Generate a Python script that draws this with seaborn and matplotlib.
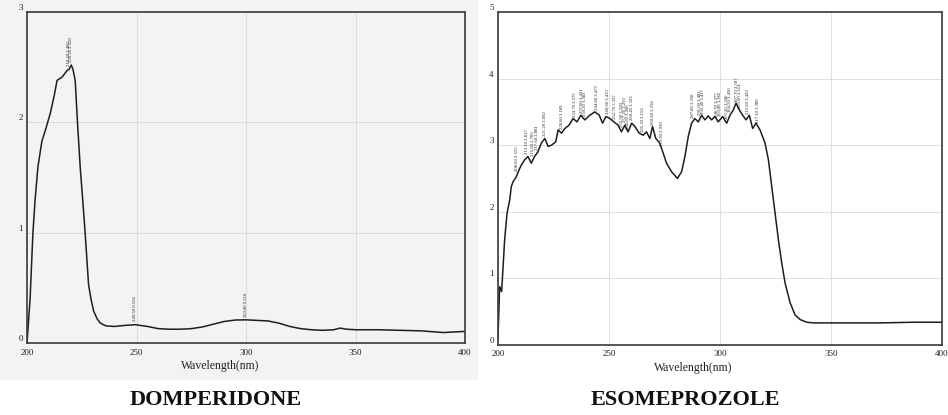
import matplotlib
matplotlib.use("Agg")
import matplotlib.pyplot as plt
import numpy as np
import pandas as pd
import seaborn as sns
from matplotlib.patches import Rectangle

# Domperidone spectrum (wavelength nm, absorbance)
dom_nm = [200, 201.4, 202.7, 203.7, 205, 206.8, 208.4, 210.6, 212.5, 213.7, 216, 218.3, 219.2,
          220.2, 221, 222, 223.1, 224.3, 225.5, 226.6, 228.1, 229.2, 230.4, 232, 233.5, 236, 240,
          245, 249.5, 255, 260, 265, 270, 275, 280, 285, 290, 295, 300, 305, 310, 315, 320, 325,
          330, 335, 340, 343, 346, 350, 360, 370, 380, 390, 400]
dom_abs = [0.0, 0.4, 1.0, 1.3, 1.6, 1.83, 1.93, 2.08, 2.25, 2.38, 2.41, 2.47, 2.48,
           2.52, 2.48, 2.38, 1.98, 1.59, 1.28, 0.98, 0.53, 0.4, 0.29, 0.22, 0.18, 0.155, 0.15,
           0.16, 0.166, 0.15, 0.13, 0.125, 0.125, 0.13, 0.145, 0.17, 0.195, 0.208, 0.21, 0.205,
           0.2, 0.18, 0.15, 0.13, 0.12, 0.115, 0.12, 0.135, 0.125, 0.12, 0.12, 0.115, 0.11,
           0.095, 0.105]
dom_peaks = [219.2, 220.2, 249.5, 300.0]

# Esomeprazole spectrum
eso_nm = [200, 200.75, 201.65, 203.0, 204.1, 205.3, 206.0, 206.8, 208.3, 209.5, 210.5, 212.0,
          213.5, 215.0, 216.5, 218.0, 219.5, 221.1, 222.6, 224.1, 226.0, 227.1, 228.6, 230.1,
          232.0, 233.8, 235.6, 237.3, 239.1, 241.4, 243.6, 245.6, 247.1, 248.6, 250.4, 252.2,
          254.1, 255.6, 257.1, 258.6, 260.2, 261.7, 263.6, 265.4, 266.9, 268.4, 269.6, 271.1,
          272.9, 274.4, 275.9, 278.2, 280.8, 282.7, 284.2, 285.7, 287.2, 288.7, 290.2, 291.7,
          293.2, 294.7, 296.2, 297.7, 299.2, 301.2, 303.0, 304.5, 306.0, 307.2, 308.7, 310.2,
          311.7, 313.2, 314.7, 316.2, 318.0, 320.3, 321.8, 323.3, 324.8, 326.3, 327.8, 329.3,
          331.6, 333.8, 336.1, 339.1, 342.1, 357.1, 372.2, 387.2, 400]
eso_abs = [0.1, 0.875, 0.80, 1.58, 1.98, 2.18, 2.38, 2.45, 2.53, 2.63, 2.70, 2.78,
           2.83, 2.73, 2.83, 2.90, 3.03, 3.10, 2.98, 3.00, 3.05, 3.23, 3.18, 3.25,
           3.30, 3.40, 3.35, 3.45, 3.38, 3.45, 3.50, 3.45, 3.33, 3.43, 3.40, 3.35,
           3.30, 3.20, 3.30, 3.20, 3.33, 3.28, 3.18, 3.15, 3.20, 3.10, 3.28, 3.10,
           3.03, 2.88, 2.73, 2.60, 2.50, 2.60, 2.83, 3.13, 3.33, 3.40, 3.35, 3.45,
           3.38, 3.44, 3.38, 3.43, 3.35, 3.43, 3.33, 3.45, 3.53, 3.63, 3.53, 3.45,
           3.38, 3.45, 3.25, 3.33, 3.23, 3.03, 2.78, 2.38, 1.98, 1.58, 1.23, 0.93,
           0.63, 0.45, 0.38, 0.34, 0.33, 0.33, 0.33, 0.34, 0.34]
eso_peaks = [208.6, 213.1, 215.8, 217.6, 221.2, 228.8, 234.7, 237.8, 239.2, 244.6, 249.6,
             252.7, 255.9, 257.2, 258.6, 260.4, 265.3, 269.8, 273.9, 287.8, 291.0, 292.4,
             298.7, 300.0, 303.2, 304.5, 307.7, 309.0, 312.6, 317.1]

x_ticks = [200, 250, 300, 350, 400]

sns.set_style("white")
plt.rcParams["font.family"] = ["Liberation Serif", "DejaVu Serif"]

fig = plt.figure(figsize=(9.48, 4.15), dpi=100)
# scanned left picture has a light grey paper tone
fig.patches.append(Rectangle((0, 0.084), 0.504, 0.916, transform=fig.transFigure,
                             facecolor="#f3f3f3", edgecolor="none", zorder=-10))

ax1 = fig.add_axes([0.0285, 0.1735, 0.462, 0.7975])
ax2 = fig.add_axes([0.5253, 0.169, 0.4684, 0.802])


def draw_spectrum(ax, nm, absb, peaks, ymax):
    df = pd.DataFrame({"nm": nm, "abs": absb})
    sns.lineplot(data=df, x="nm", y="abs", ax=ax, color="#1e1e1e", linewidth=1.1)
    ax.set_xlim(200, 400)
    ax.set_ylim(0, ymax)
    ax.set_xticks(x_ticks)
    ax.set_xticklabels([str(t) for t in x_ticks])
    ax.set_yticks(range(ymax + 1))
    ax.grid(True, color="#d9d9d9", linewidth=0.6)
    ax.set_facecolor("none")
    for s in ax.spines.values():
        s.set_color("#3a3a3a")
        s.set_linewidth(1.2)
    ax.tick_params(length=0, labelsize=6.5, colors="#222222")
    ax.tick_params(axis="x", pad=4)
    ax.tick_params(axis="y", pad=3)
    for lbl in ax.get_yticklabels():
        lbl.set_verticalalignment("bottom")
    ax.set_ylabel("")
    ax.set_xlabel("Wavelength(nm)", fontsize=8.5, labelpad=1, color="#222222")
    ax.xaxis.set_label_coords(0.44, -0.05)
    for p in peaks:
        a = float(np.interp(p, nm, absb))
        ax.text(p, a + 0.03 * ymax / 3, f"{p:.2f} {a:.3f}", rotation=90, fontsize=3.4,
                ha="center", va="bottom", color="#222222")


draw_spectrum(ax1, dom_nm, dom_abs, dom_peaks, 3)
draw_spectrum(ax2, eso_nm, eso_abs, eso_peaks, 5)

fig.text(0.227, 0.036, "DOMPERIDONE", fontsize=16, fontweight="bold", ha="center",
         va="center", color="#111111")
fig.text(0.7226, 0.036, "ESOMEPROZOLE", fontsize=16, fontweight="bold", ha="center",
         va="center", color="#111111")

fig.savefig("out.png", dpi=100)
